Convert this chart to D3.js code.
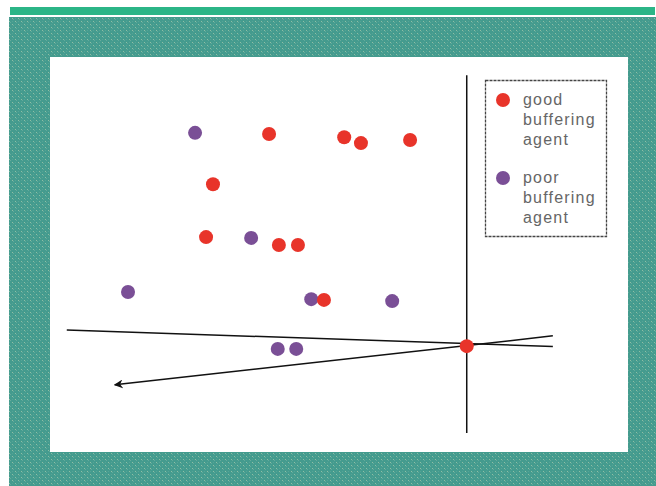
<!DOCTYPE html>
<html><head><meta charset="utf-8">
<script src="https://cdn.jsdelivr.net/npm/d3@7"></script>
<style>html,body{margin:0;padding:0;background:#fff;}svg{display:block;}</style>
</head><body>
<script>
// Data (arbitrary units, 0-100 on each axis)
const goodX = [37.9, 50.9, 53.8, 62.3, 28.2, 27.0, 39.6, 42.9, 47.4, 72.1];
const goodY = [80.5, 79.7, 78.2, 79.0, 67.8, 54.4, 52.4, 52.4, 38.5, 26.8];
const poorX = [25.1, 34.8, 13.5, 45.2, 59.2, 39.4, 42.6];
const poorY = [80.8, 54.2, 40.5, 38.7, 38.2, 26.1, 26.1];
const axisLineX = [72.1, 72.1];
const axisLineY = [95.4, 4.8];
const line1X = [2.9, 87.0];
const line1Y = [30.9, 26.7];
const arrowX = [87.0, 11.2];
const arrowY = [29.4, 17.0];
const legendLabels = [["good", "buffering", "agent"], ["poor", "buffering", "agent"]];
const seriesColors = ["#e8342a", "#7a4f96"];

const W = 656, H = 486;
const svg = d3.select("body").append("svg").attr("width", W).attr("height", H);
const defs = svg.append("defs");

// teal textured pattern
const pat = defs.append("pattern").attr("id", "teal").attr("patternUnits", "userSpaceOnUse")
  .attr("width", 6).attr("height", 6);
pat.append("rect").attr("width", 6).attr("height", 6).attr("fill", "#449b8e");
pat.append("rect").attr("x", 0).attr("y", 0).attr("width", 1).attr("height", 1).attr("fill", "#8fbea4");
pat.append("rect").attr("x", 3).attr("y", 3).attr("width", 1).attr("height", 1).attr("fill", "#8fbea4");
pat.append("rect").attr("x", 1).attr("y", 1).attr("width", 1).attr("height", 1).attr("fill", "#63aa9b");
pat.append("rect").attr("x", 4).attr("y", 4).attr("width", 1).attr("height", 1).attr("fill", "#63aa9b");
pat.append("rect").attr("x", 3).attr("y", 0).attr("width", 1).attr("height", 1).attr("fill", "#55a396");
pat.append("rect").attr("x", 0).attr("y", 3).attr("width", 1).attr("height", 1).attr("fill", "#55a396");

defs.append("marker").attr("id", "arrow").attr("viewBox", "0 0 10 10")
  .attr("refX", 9).attr("refY", 5).attr("markerWidth", 9).attr("markerHeight", 9)
  .attr("markerUnits", "userSpaceOnUse").attr("orient", "auto")
  .append("path").attr("d", "M0,0 L10,5 L0,10 L3,5 Z").attr("fill", "#111");

// top green bar
svg.append("rect").attr("x", 10).attr("y", 7).attr("width", 645).attr("height", 8).attr("fill", "#2bb587");
// frame
svg.append("rect").attr("x", 9).attr("y", 17).attr("width", W - 9).attr("height", H - 17).attr("fill", "url(#teal)");
// white plot area
const plot = {x0: 50, x1: 628, y0: 57, y1: 452};
svg.append("rect").attr("x", plot.x0).attr("y", plot.y0).attr("width", plot.x1 - plot.x0)
  .attr("height", plot.y1 - plot.y0).attr("fill", "#fff");

const x = d3.scaleLinear().domain([0, 100]).range([plot.x0, plot.x1]);
const y = d3.scaleLinear().domain([0, 100]).range([plot.y1, plot.y0]);

const lineGen = d3.line().x(d => x(d[0])).y(d => y(d[1]));
const zipPts = (a, b) => a.map((v, i) => [v, b[i]]);

svg.append("path").attr("d", lineGen(zipPts(line1X, line1Y))).attr("stroke", "#111")
  .attr("stroke-width", 1.5).attr("fill", "none");
svg.append("path").attr("d", lineGen(zipPts(arrowX, arrowY))).attr("stroke", "#111")
  .attr("stroke-width", 1.5).attr("fill", "none").attr("marker-end", "url(#arrow)");
svg.append("path").attr("d", lineGen(zipPts(axisLineX, axisLineY))).attr("stroke", "#111")
  .attr("stroke-width", 1.5).attr("fill", "none");

// points: poor first, good on top
svg.append("g").selectAll("circle").data(zipPts(poorX, poorY)).join("circle")
  .attr("cx", d => x(d[0])).attr("cy", d => y(d[1])).attr("r", 7).attr("fill", seriesColors[1]);
svg.append("g").selectAll("circle").data(zipPts(goodX, goodY)).join("circle")
  .attr("cx", d => x(d[0])).attr("cy", d => y(d[1])).attr("r", 7).attr("fill", seriesColors[0]);

// legend
const lg = svg.append("g");
lg.append("rect").attr("x", 485.5).attr("y", 80.5).attr("width", 121).attr("height", 156)
  .attr("fill", "#fff").attr("stroke", "#444").attr("stroke-width", 1.3).attr("stroke-dasharray", "3,1");
legendLabels.forEach((lines, i) => {
  const top = 100 + i * 78;
  lg.append("circle").attr("cx", 503).attr("cy", top).attr("r", 7).attr("fill", seriesColors[i]);
  lines.forEach((t, j) => {
    lg.append("text").attr("x", 523).attr("y", top + 5 + j * 20).text(t)
      .attr("font-family", "Liberation Sans, Arial, sans-serif").attr("font-size", 16)
      .attr("letter-spacing", 1.2).attr("fill", "#666");
  });
});
</script>
</body></html>
